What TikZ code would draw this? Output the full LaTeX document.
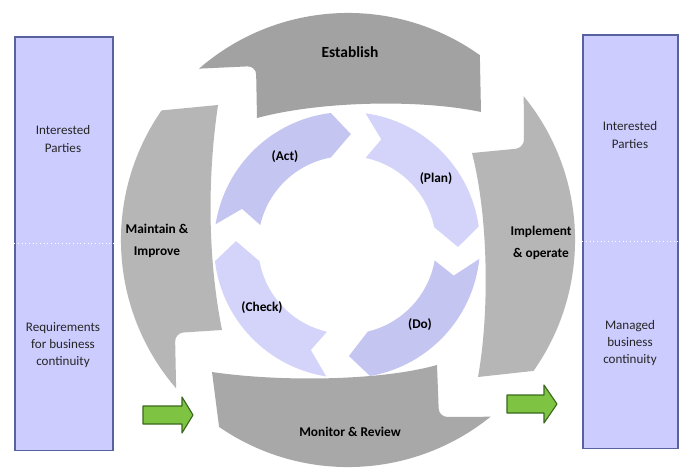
\documentclass[tikz,border=0pt]{standalone}
\usepackage{fontspec}
\setmainfont{Carlito}
\usetikzlibrary{positioning, calc}

\definecolor{boxfill}{RGB}{204,204,255}
\definecolor{boxline}{RGB}{88,98,158}
\definecolor{graydark}{RGB}{162,162,162}
\definecolor{graymid}{RGB}{168,168,168}
\definecolor{graylight}{RGB}{182,182,182}
\definecolor{actcol}{RGB}{197,197,242}
\definecolor{plancol}{RGB}{212,212,250}
\definecolor{arrowfill}{RGB}{126,196,66}
\definecolor{arrowline}{RGB}{58,104,30}

\newcommand{\ringout}{5.675cm}
\newcommand{\pdcaout}{3.325cm}
\newcommand{\pdcamid}{2.775cm}
\newcommand{\pdcain}{2.225cm}

\begin{document}
\begin{tikzpicture}[x=0.025cm, y=-0.025cm,
  side/.style={rectangle,draw=boxline,fill=boxfill,line width=0.8pt,minimum width=2.45cm,minimum height=10.325cm},
  sidetext/.style={align=center,text=black!85,font=\fontsize{9.3}{12.1}\selectfont},
  phase/.style={align=center,font=\fontsize{9.5}{16}\selectfont\bfseries},
  pdca/.style={font=\fontsize{9.5}{11}\selectfont\bfseries},
  feed/.style={fill=arrowfill,draw=arrowline,line width=0.8pt,line join=round}]
\useasboundingbox (0,0) rectangle (679,470);
\fill[white] (0,0) rectangle (679,470);
\coordinate (gc) at (348,240);
\coordinate (pc) at (347,245);

% side boxes
\node (lbox) [side] at (64,243.5) {};
\node (rbox) [side, minimum width=2.375cm] at (630.5,241.5) {};
\draw [white, dotted, line width=0.6pt] (lbox.west) -- (lbox.east);
\draw [white, dotted, line width=0.6pt] (rbox.west) -- (rbox.east);
\node (lparties) [sidetext] at (63,139) {Interested\\Parties};
\node (lreq) [sidetext] at (63,345) {Requirements\\for business\\continuity};
\node (rparties) [sidetext] at (630,135) {Interested\\Parties};
\node (rmanaged) [sidetext] at (630,343) {Managed\\business\\continuity};

% outer grey ring
\fill[graydark] ($(gc)+(131:\ringout)$) arc[start angle=131, end angle=54.5, radius=\ringout] -- (481,112) .. controls (420,99) and (320,101) .. (257,118) [rounded corners=6pt] -- (256,66) [sharp corners] -- cycle;
\fill[graylight] ($(gc)+(39.3:\ringout)$) arc[start angle=39.3, end angle=-35.2, radius=\ringout] -- (478,377) .. controls (490,310) and (488,215) .. (472,153) [rounded corners=6pt] -- (524,148) [sharp corners] -- cycle;
\fill[graymid] ($(gc)+(-51.1:\ringout)$) arc[start angle=-51.1, end angle=-124.6, radius=\ringout] -- (212,372) .. controls (280,382) and (380,381) .. (437,365) [rounded corners=6pt] -- (439,417) [sharp corners] -- cycle;
\fill[graylight] ($(gc)+(220.8:\ringout)$) arc[start angle=220.8, end angle=145.2, radius=\ringout] -- (218,105) .. controls (207,180) and (208,260) .. (222,330) [rounded corners=6pt] -- (175,333) [sharp corners] -- cycle;

% inner PDCA ring
\fill[actcol] ($(pc)+(171:\pdcaout)$) arc[start angle=171, end angle=97, radius=\pdcaout] -- ($(pc)+(88:\pdcamid)$) -- ($(pc)+(100.5:\pdcain)$) arc[start angle=100.5, end angle=167, radius=\pdcain] -- ($(pc)+(161:\pdcamid)$) -- cycle;
\fill[plancol] ($(pc)+(82:\pdcaout)$) arc[start angle=82, end angle=8, radius=\pdcaout] -- ($(pc)+(-1:\pdcamid)$) -- ($(pc)+(11.5:\pdcain)$) arc[start angle=11.5, end angle=78, radius=\pdcain] -- ($(pc)+(72:\pdcamid)$) -- cycle;
\fill[actcol] ($(pc)+(-6:\pdcaout)$) arc[start angle=-6, end angle=-80, radius=\pdcaout] -- ($(pc)+(-89:\pdcamid)$) -- ($(pc)+(-76.5:\pdcain)$) arc[start angle=-76.5, end angle=-10, radius=\pdcain] -- ($(pc)+(-16:\pdcamid)$) -- cycle;
\fill[plancol] ($(pc)+(261:\pdcaout)$) arc[start angle=261, end angle=187, radius=\pdcaout] -- ($(pc)+(178:\pdcamid)$) -- ($(pc)+(190.5:\pdcain)$) arc[start angle=190.5, end angle=257, radius=\pdcain] -- ($(pc)+(251:\pdcamid)$) -- cycle;

% labels
\node (establish) [phase, font=\fontsize{11}{13}\selectfont\bfseries] at (350,52) {Establish};
\node (implement) [phase] at (541,243) {Implement\\\& operate};
\node (monitor) [phase] at (350,432) {Monitor \& Review};
\node (maintain) [phase] at (157,241) {Maintain \&\\Improve};
\node (act) [pdca] at (285,157) {(Act)};
\node (plan) [pdca] at (436,179) {(Plan)};
\node (do) [pdca] at (420,325) {(Do)};
\node (check) [pdca] at (262,308) {(Check)};

% green arrows
\draw[feed] (143,406) -- (182,406) -- (182,397) -- (193,415) -- (182,433) -- (182,424) -- (143,424) -- cycle;
\draw[feed] (507,395) -- (544,395) -- (544,385) -- (557,404) -- (544,423) -- (544,413) -- (507,413) -- cycle;
\end{tikzpicture}
\end{document}
